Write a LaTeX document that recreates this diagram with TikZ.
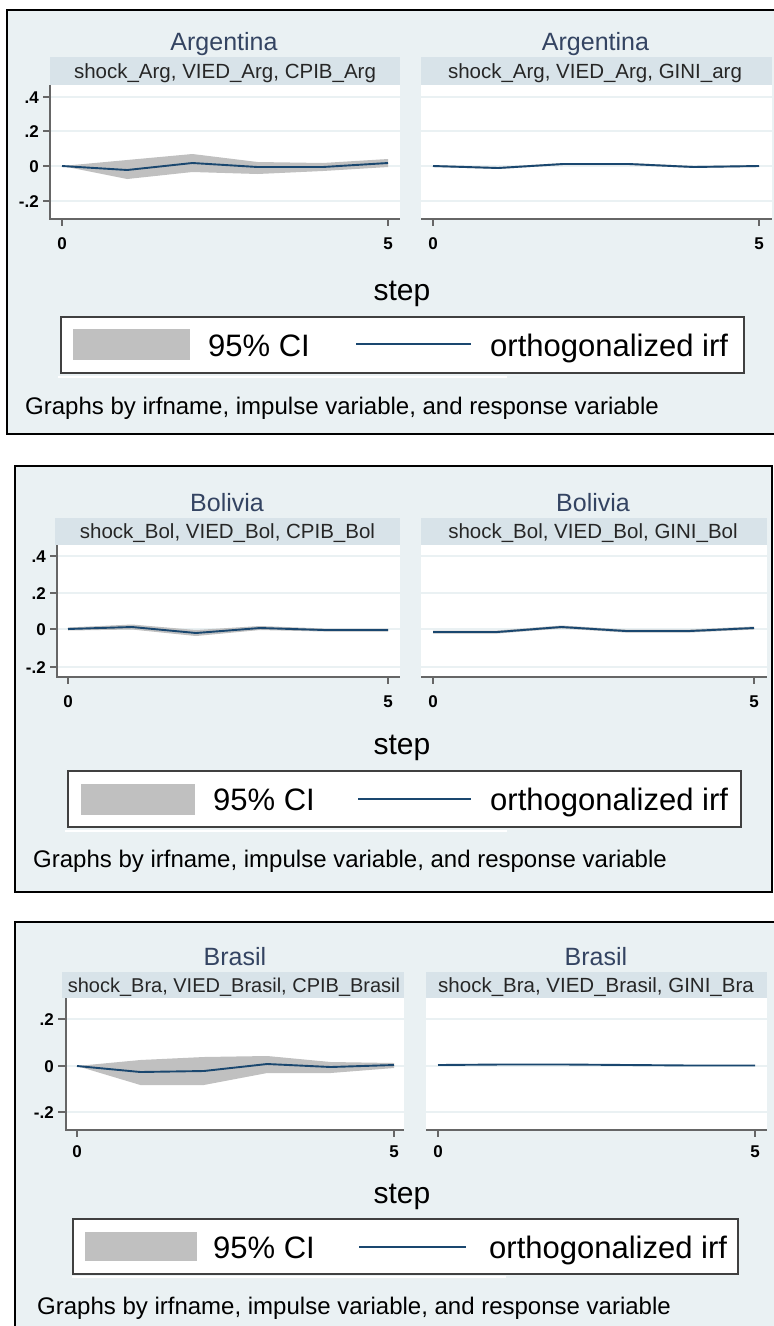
\documentclass[tikz,border=0pt]{standalone}
\usepackage{fontspec}
\setmainfont{Liberation Sans}
\definecolor{bgc}{RGB}{234,241,243}
\definecolor{bandc}{RGB}{216,227,233}
\definecolor{navyc}{RGB}{26,71,111}
\definecolor{cic}{RGB}{192,192,192}
\definecolor{gridc}{RGB}{234,241,243}
\definecolor{titlec}{RGB}{52,68,98}
\newcommand\myfs[1]{\fontsize{#1}{#1}\selectfont}
\tikzset{
 panel/.style={draw=black, line width=2pt, fill=bgc},
 band/.style={fill=bandc},
 plotarea/.style={fill=white},
 axisline/.style={draw=black!60, line width=1.2pt},
 gridline/.style={draw=gridc, line width=1.2pt},
 tickmark/.style={draw=black!60, line width=1.2pt},
 irf/.style={draw=navyc, line width=1.9pt, line join=round},
 ci/.style={fill=cic, draw=none},
 ttl/.style={font=\myfs{25}, text=titlec, inner sep=0, anchor=base},
 sub/.style={font=\myfs{20.5}, text=black!85, inner sep=0, anchor=base},
 subsm/.style={sub, font=\myfs{20}},
 ylab/.style={font=\myfs{17}\bfseries, inner sep=0, anchor=base east},
 xlab/.style={font=\myfs{17}\bfseries, inner sep=0, anchor=base},
 steplab/.style={font=\myfs{30}, inner sep=0, anchor=base},
 legbox/.style={draw=black!75, line width=1.5pt, fill=white},
 legtxt/.style={font=\myfs{31}, inner sep=0, anchor=base west},
 note/.style={font=\myfs{24}, inner sep=0, anchor=base west},
 strip/.style={fill=white},
}
\begin{document}
\begin{tikzpicture}[x=1pt,y=-1pt]
\useasboundingbox (0,0) rectangle (774,1326);
\fill[white] (0,0) rectangle (774,1326);

%%%%%%%%%%%%%%%% PANEL 1 : Argentina
\path[panel] (7,10) rectangle (778,434);
\path[band] (50,57) rectangle (400,85);
\path[plotarea] (50,85) rectangle (400,219);
\path[band] (421,57) rectangle (772,85);
\path[plotarea] (421,85) rectangle (772,219);
\foreach \y in {97,131,166,201}{
  \draw[gridline] (51,\y) -- (400,\y);
  \draw[gridline] (421,\y) -- (772,\y);
}
\path[ci] (62,166) -- (127.2,160) -- (192.4,154) -- (257.6,162) -- (322.8,163) -- (388,159)
  -- (388,167) -- (322.8,171) -- (257.6,174) -- (192.4,172) -- (127.2,179) -- cycle;
\draw[irf] (62,166) -- (127.2,170) -- (192.4,163) -- (257.6,167) -- (322.8,167) -- (388,163);
\path[ci] (433,165) -- (498.2,167) -- (563.4,163) -- (628.6,163) -- (693.8,166) -- (759,165)
  -- (759,167) -- (693.8,168) -- (628.6,165) -- (563.4,165) -- (498.2,169) -- (433,167) -- cycle;
\draw[irf] (433,166) -- (498.2,168) -- (563.4,164) -- (628.6,164) -- (693.8,167) -- (759,166);
\draw[axisline] (50,85) -- (50,219) -- (400,219);
\draw[axisline] (421,219) -- (772,219);
\foreach \y/\l [count=\i] in {97/.4,131/.2,166/0,201/-.2}{
  \draw[tickmark] (43,\y) -- (50,\y);
  \node[ylab] (ya\i) at (39,\y+6) {\l};
}
\draw[tickmark] (62,219) -- (62,226);
\draw[tickmark] (388,219) -- (388,226);
\draw[tickmark] (433,219) -- (433,226);
\draw[tickmark] (759,219) -- (759,226);
\node[xlab] (xa1) at (62,249) {0};
\node[xlab] (xa2) at (388,249) {5};
\node[xlab] (xa3) at (433,249) {0};
\node[xlab] (xa4) at (759,249) {5};
\node[ttl] (ta1) at (224,50) {Argentina};
\node[ttl] (ta2) at (595.5,50) {Argentina};
\node[sub] (sa1) at (225,78) {shock\_Arg, VIED\_Arg, CPIB\_Arg};
\node[sub] (sa2) at (595,78) {shock\_Arg, VIED\_Arg, GINI\_arg};
\node[steplab] (stepa) at (402,300) {step};
\path[strip] (58,375.5) rectangle (507,377.5);
\path[legbox] (61,317) rectangle (744,373);
\path[ci] (73,329) rectangle (190,360);
\node[legtxt] (lca) at (208,356) {95\% CI};
\draw[irf] (356,344) -- (471,344);
\node[legtxt] (loa) at (490,356) {orthogonalized irf};
\node[note] (na) at (25,414) {Graphs by irfname, impulse variable, and response variable};

%%%%%%%%%%%%%%%% PANEL 2 : Bolivia
\path[panel] (15,466) rectangle (772,892);
\path[band] (55,518) rectangle (400,545);
\path[plotarea] (57,545) rectangle (400,677);
\path[band] (421,518) rectangle (767,545);
\path[plotarea] (421,545) rectangle (767,677);
\foreach \y in {556,593,629,667}{
  \draw[gridline] (58,\y) -- (400,\y);
  \draw[gridline] (421,\y) -- (767,\y);
}
\path[ci] (68,627.5) -- (132,624.5) -- (196,630) -- (260,626) -- (324,628.5) -- (388,628.5)
  -- (388,631.5) -- (324,631.5) -- (260,630) -- (196,636) -- (132,629.5) -- (68,630.5) -- cycle;
\draw[irf] (68,629) -- (132,627) -- (196,633) -- (260,628) -- (324,630) -- (388,630);
\path[ci] (433,630.5) -- (497.2,630.5) -- (561.4,625.5) -- (625.6,629.5) -- (689.8,629.5) -- (754,626.5)
  -- (754,629.5) -- (689.8,632.5) -- (625.6,632.5) -- (561.4,628.5) -- (497.2,633.5) -- (433,633.5) -- cycle;
\draw[irf] (433,632) -- (497.2,632) -- (561.4,627) -- (625.6,631) -- (689.8,631) -- (754,628);
\draw[axisline] (57,545) -- (57,677) -- (400,677);
\draw[axisline] (421,677) -- (767,677);
\foreach \y/\l [count=\i] in {556/.4,593/.2,629/0,667/-.2}{
  \draw[tickmark] (50,\y) -- (57,\y);
  \node[ylab] (yb\i) at (46,\y+6) {\l};
}
\draw[tickmark] (68,677) -- (68,684);
\draw[tickmark] (388,677) -- (388,684);
\draw[tickmark] (433,677) -- (433,684);
\draw[tickmark] (754,677) -- (754,684);
\node[xlab] (xb1) at (68,707) {0};
\node[xlab] (xb2) at (388,707) {5};
\node[xlab] (xb3) at (433,707) {0};
\node[xlab] (xb4) at (754,707) {5};
\node[ttl] (tb1) at (227,511) {Bolivia};
\node[ttl] (tb2) at (593,511) {Bolivia};
\node[sub] (sb1) at (227.5,538) {shock\_Bol, VIED\_Bol, CPIB\_Bol};
\node[sub] (sb2) at (593,538) {shock\_Bol, VIED\_Bol, GINI\_Bol};
\node[steplab] (stepb) at (402,754) {step};
\path[strip] (65,830) rectangle (507,832);
\path[legbox] (68,771) rectangle (741,827);
\path[ci] (81,784) rectangle (195,815);
\node[legtxt] (lcb) at (213,810) {95\% CI};
\draw[irf] (358,799) -- (471,799);
\node[legtxt] (lob) at (490,810) {orthogonalized irf};
\node[note] (nb) at (33,867) {Graphs by irfname, impulse variable, and response variable};

%%%%%%%%%%%%%%%% PANEL 3 : Brasil
\path[panel] (15,922) rectangle (778,1340);
\path[band] (62,972) rectangle (404,998);
\path[plotarea] (66,998) rectangle (404,1130);
\path[band] (426,972) rectangle (767,998);
\path[plotarea] (426,998) rectangle (767,1130);
\foreach \y in {1019,1066,1112}{
  \draw[gridline] (67,\y) -- (404,\y);
  \draw[gridline] (426,\y) -- (767,\y);
}
\path[ci] (77,1066) -- (140.4,1060) -- (203.8,1057) -- (267.2,1056) -- (330.6,1062) -- (394,1063)
  -- (394,1068) -- (330.6,1073) -- (267.2,1073) -- (203.8,1085) -- (140.4,1085) -- cycle;
\draw[irf] (77,1066) -- (140.4,1072) -- (203.8,1071) -- (267.2,1064) -- (330.6,1067) -- (394,1065);
\draw[irf] (438,1065) -- (501.4,1064.5) -- (564.8,1064.5) -- (628.2,1065) -- (691.6,1065.5) -- (755,1065.5);
\draw[axisline] (66,998) -- (66,1130) -- (404,1130);
\draw[axisline] (426,1130) -- (767,1130);
\foreach \y/\l [count=\i] in {1019/.2,1066/0,1112/-.2}{
  \draw[tickmark] (58,\y) -- (66,\y);
  \node[ylab] (yc\i) at (54,\y+6) {\l};
}
\draw[tickmark] (77,1130) -- (77,1137);
\draw[tickmark] (394,1130) -- (394,1137);
\draw[tickmark] (438,1130) -- (438,1137);
\draw[tickmark] (755,1130) -- (755,1137);
\node[xlab] (xc1) at (77,1157) {0};
\node[xlab] (xc2) at (394,1157) {5};
\node[xlab] (xc3) at (438,1157) {0};
\node[xlab] (xc4) at (755,1157) {5};
\node[ttl] (tc1) at (235,965) {Brasil};
\node[ttl] (tc2) at (596,965) {Brasil};
\node[subsm] (sc1) at (234,992) {shock\_Bra, VIED\_Brasil, CPIB\_Brasil};
\node[sub] (sc2) at (596,992) {shock\_Bra, VIED\_Brasil, GINI\_Bra};
\node[steplab] (stepc) at (402,1203) {step};
\path[strip] (72,1276) rectangle (506,1278);
\path[legbox] (73,1219) rectangle (738,1274);
\path[ci] (85,1232) rectangle (197,1261);
\node[legtxt] (lcc) at (213,1258) {95\% CI};
\draw[irf] (359,1247) -- (466,1247);
\node[legtxt] (loc) at (489,1258) {orthogonalized irf};
\node[note] (nc) at (37,1314) {Graphs by irfname, impulse variable, and response variable};
\end{tikzpicture}
\end{document}
